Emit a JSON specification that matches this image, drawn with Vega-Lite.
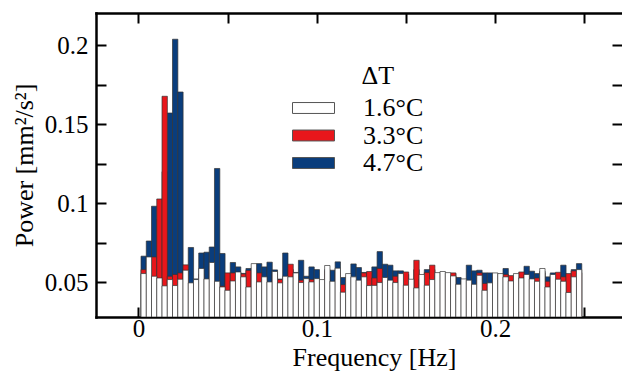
{
  "$schema": "https://vega.github.io/schema/vega-lite/v6.json",
  "width": 526,
  "height": 304,
  "autosize": {"type": "none"},
  "padding": {"left": 96, "top": 13, "right": 0, "bottom": 56},
  "background": "white",
  "config": {
    "view": {"stroke": null},
    "font": "Liberation Serif",
    "axis": {
      "grid": false,
      "domainColor": "black",
      "domainWidth": 2.5,
      "domainCap": "square",
      "tickColor": "black",
      "tickWidth": 2,
      "tickSize": -10,
      "labelFont": "Liberation Serif",
      "labelFontSize": 25,
      "labelColor": "black",
      "titleFont": "Liberation Serif",
      "titleFontSize": 26,
      "titleFontWeight": "normal",
      "titleColor": "black",
      "labelFlush": false,
      "labelOverlap": false
    }
  },
  "data": {
    "values": [
      {"f": 0.00294, "w": 0.0555, "r": 0.058, "b": 0.0665},
      {"f": 0.00588, "w": 0.066, "r": 0.062, "b": 0.0761},
      {"f": 0.00882, "w": 0.0538, "r": 0.066, "b": 0.0981},
      {"f": 0.01176, "w": 0.0527, "r": 0.1027, "b": 0.09},
      {"f": 0.01471, "w": 0.0477, "r": 0.1677, "b": 0.12},
      {"f": 0.01765, "w": 0.0517, "r": 0.0538, "b": 0.1571},
      {"f": 0.02059, "w": 0.0479, "r": 0.0549, "b": 0.2038},
      {"f": 0.02353, "w": 0.0519, "r": 0.0559, "b": 0.1704},
      {"f": 0.02647, "w": 0.0576, "r": 0.061, "b": 0.058},
      {"f": 0.02941, "w": 0.0496, "r": 0.048, "b": 0.072},
      {"f": 0.03235, "w": 0.0517, "r": 0.05, "b": 0.0521},
      {"f": 0.03529, "w": 0.0587, "r": 0.055, "b": 0.0685},
      {"f": 0.03824, "w": 0.0521, "r": 0.05, "b": 0.069},
      {"f": 0.04118, "w": 0.0625, "r": 0.06, "b": 0.0723},
      {"f": 0.04412, "w": 0.0506, "r": 0.049, "b": 0.122},
      {"f": 0.04706, "w": 0.047, "r": 0.0475, "b": 0.0682},
      {"f": 0.05, "w": 0.0449, "r": 0.0559, "b": 0.054},
      {"f": 0.05294, "w": 0.0508, "r": 0.0559, "b": 0.0625},
      {"f": 0.05588, "w": 0.0565, "r": 0.054, "b": 0.0597},
      {"f": 0.05882, "w": 0.0534, "r": 0.0553, "b": 0.0556},
      {"f": 0.06176, "w": 0.047, "r": 0.0575, "b": 0.0587},
      {"f": 0.06471, "w": 0.0618, "r": 0.058, "b": 0.059},
      {"f": 0.06765, "w": 0.0502, "r": 0.0559, "b": 0.0618},
      {"f": 0.07059, "w": 0.0534, "r": 0.051, "b": 0.0597},
      {"f": 0.07353, "w": 0.0502, "r": 0.049, "b": 0.0627},
      {"f": 0.07647, "w": 0.0568, "r": 0.055, "b": 0.0578},
      {"f": 0.07941, "w": 0.0496, "r": 0.0517, "b": 0.052},
      {"f": 0.08235, "w": 0.0538, "r": 0.052, "b": 0.0685},
      {"f": 0.08529, "w": 0.0534, "r": 0.0614, "b": 0.058},
      {"f": 0.08824, "w": 0.0559, "r": 0.054, "b": 0.0562},
      {"f": 0.09118, "w": 0.0498, "r": 0.0513, "b": 0.0639},
      {"f": 0.09412, "w": 0.0523, "r": 0.051, "b": 0.0538},
      {"f": 0.09706, "w": 0.0502, "r": 0.0517, "b": 0.0597},
      {"f": 0.1, "w": 0.0523, "r": 0.051, "b": 0.058},
      {"f": 0.10294, "w": 0.0517, "r": 0.05, "b": 0.049},
      {"f": 0.10588, "w": 0.0606, "r": 0.057, "b": 0.058},
      {"f": 0.10882, "w": 0.0506, "r": 0.049, "b": 0.0576},
      {"f": 0.11176, "w": 0.0589, "r": 0.056, "b": 0.0629},
      {"f": 0.11471, "w": 0.0437, "r": 0.0485, "b": 0.053},
      {"f": 0.11765, "w": 0.0555, "r": 0.052, "b": 0.053},
      {"f": 0.12059, "w": 0.0534, "r": 0.051, "b": 0.0616},
      {"f": 0.12353, "w": 0.0513, "r": 0.05, "b": 0.0593},
      {"f": 0.12647, "w": 0.0534, "r": 0.0559, "b": 0.0562},
      {"f": 0.12941, "w": 0.0479, "r": 0.0568, "b": 0.056},
      {"f": 0.13235, "w": 0.048, "r": 0.0527, "b": 0.0597},
      {"f": 0.13529, "w": 0.0498, "r": 0.0587, "b": 0.0694},
      {"f": 0.13824, "w": 0.053, "r": 0.051, "b": 0.0614},
      {"f": 0.14118, "w": 0.0513, "r": 0.05, "b": 0.0608},
      {"f": 0.14412, "w": 0.0498, "r": 0.0538, "b": 0.0572},
      {"f": 0.14706, "w": 0.0555, "r": 0.0545, "b": 0.0572},
      {"f": 0.15, "w": 0.0481, "r": 0.0565, "b": 0.055},
      {"f": 0.15294, "w": 0.0519, "r": 0.05, "b": 0.049},
      {"f": 0.15588, "w": 0.0464, "r": 0.0639, "b": 0.058},
      {"f": 0.15882, "w": 0.0549, "r": 0.052, "b": 0.053},
      {"f": 0.16176, "w": 0.0481, "r": 0.0561, "b": 0.058},
      {"f": 0.16471, "w": 0.0517, "r": 0.0608, "b": 0.058},
      {"f": 0.16765, "w": 0.0561, "r": 0.054, "b": 0.055},
      {"f": 0.17059, "w": 0.0568, "r": 0.055, "b": 0.054},
      {"f": 0.17353, "w": 0.0561, "r": 0.054, "b": 0.055},
      {"f": 0.17647, "w": 0.054, "r": 0.0559, "b": 0.0555},
      {"f": 0.17941, "w": 0.0487, "r": 0.047, "b": 0.053},
      {"f": 0.18235, "w": 0.0521, "r": 0.05, "b": 0.051},
      {"f": 0.18529, "w": 0.0513, "r": 0.05, "b": 0.0608},
      {"f": 0.18824, "w": 0.0487, "r": 0.048, "b": 0.0572},
      {"f": 0.19118, "w": 0.0544, "r": 0.0559, "b": 0.0576},
      {"f": 0.19412, "w": 0.0449, "r": 0.0492, "b": 0.0559},
      {"f": 0.19706, "w": 0.0496, "r": 0.048, "b": 0.0559},
      {"f": 0.2, "w": 0.0559, "r": 0.054, "b": 0.053},
      {"f": 0.20294, "w": 0.0555, "r": 0.053, "b": 0.054},
      {"f": 0.20588, "w": 0.0534, "r": 0.0549, "b": 0.0587},
      {"f": 0.20882, "w": 0.0508, "r": 0.0542, "b": 0.052},
      {"f": 0.21176, "w": 0.0555, "r": 0.053, "b": 0.054},
      {"f": 0.21471, "w": 0.0527, "r": 0.0565, "b": 0.055},
      {"f": 0.21765, "w": 0.0549, "r": 0.053, "b": 0.0601},
      {"f": 0.22059, "w": 0.0521, "r": 0.051, "b": 0.057},
      {"f": 0.22353, "w": 0.0506, "r": 0.0527, "b": 0.0555},
      {"f": 0.22647, "w": 0.0587, "r": 0.056, "b": 0.057},
      {"f": 0.22941, "w": 0.047, "r": 0.0506, "b": 0.0534},
      {"f": 0.23235, "w": 0.0549, "r": 0.053, "b": 0.0559},
      {"f": 0.23529, "w": 0.0519, "r": 0.0563, "b": 0.055},
      {"f": 0.23824, "w": 0.0506, "r": 0.0534, "b": 0.0608},
      {"f": 0.24118, "w": 0.0435, "r": 0.0555, "b": 0.054},
      {"f": 0.24412, "w": 0.0534, "r": 0.0572, "b": 0.058},
      {"f": 0.24706, "w": 0.058, "r": 0.056, "b": 0.0618}
    ]
  },
  "transform": [{"fold": ["w", "r", "b"], "as": ["T", "p"]}],
  "layer": [
    {
      "mark": {"type": "bar", "clip": true, "size": 5.35, "stroke": "#333333", "strokeWidth": 0.7},
      "encoding": {
        "x": {
          "field": "f", "type": "quantitative",
          "scale": {"domain": [-0.021, 0.2683], "nice": false, "zero": false},
          "axis": {
            "orient": "bottom",
            "values": [0, 0.05, 0.1, 0.15, 0.2, 0.25],
            "format": "~g",
            "labelExpr": "round(datum.value*20)%2==0 ? datum.label : ''",
            "labelPadding": 9,
            "title": "Frequency [Hz]",
            "titlePadding": 3,
            "titleX": 278
          }
        },
        "y": {
          "field": "p", "type": "quantitative", "stack": null,
          "scale": {"domain": [0.028, 0.2204], "nice": false, "zero": false},
          "axis": {
            "orient": "left",
            "values": [0.05, 0.075, 0.1, 0.125, 0.15, 0.175, 0.2],
            "format": "~g",
            "labelExpr": "round(datum.value*40)%2==0 ? datum.label : ''",
            "labelPadding": 18,
            "title": "Power [mm²/s²]",
            "titlePadding": 7
          }
        },
        "color": {
          "field": "T", "type": "nominal",
          "scale": {"domain": ["w", "r", "b"], "range": ["#ffffff", "#e8161b", "#0a3d7c"]},
          "legend": {
            "orient": "none",
            "legendX": 204.5,
            "legendY": 50,
            "title": "ΔT",
            "titleFont": "Liberation Serif",
            "titleFontSize": 26,
            "titleFontWeight": "normal",
            "titleColor": "black",
            "titleAnchor": "middle",
            "titleAlign": "left",
            "titlePadding": 6,
            "labelFont": "Liberation Serif",
            "labelFontSize": 26,
            "labelColor": "black",
            "labelOffset": 36.5,
            "rowPadding": 1.5,
            "symbolType": "M-2,-0.52H2V0.52H-2Z",
            "symbolSize": 441,
            "symbolStrokeColor": "#555555",
            "symbolStrokeWidth": 1,
            "symbolOpacity": 1,
            "labelExpr": "datum.label=='w' ? '1.6°C' : datum.label=='r' ? '3.3°C' : '4.7°C'"
          }
        },
        "order": {"field": "T", "sort": "ascending"}
      }
    },
    {
      "mark": {"type": "bar", "opacity": 0, "size": 5.35, "clip": true},
      "encoding": {
        "x": {
          "field": "f", "type": "quantitative",
          "axis": {
            "orient": "top",
            "values": [0, 0.05, 0.1, 0.15, 0.2, 0.25],
            "labels": false,
            "title": null
          }
        },
        "y": {
          "field": "p", "type": "quantitative", "stack": null,
          "axis": {
            "orient": "right",
            "values": [0.05, 0.075, 0.1, 0.125, 0.15, 0.175, 0.2],
            "labels": false,
            "domain": false,
            "title": null
          }
        }
      }
    }
  ],
  "resolve": {"axis": {"x": "independent", "y": "independent"}}
}
